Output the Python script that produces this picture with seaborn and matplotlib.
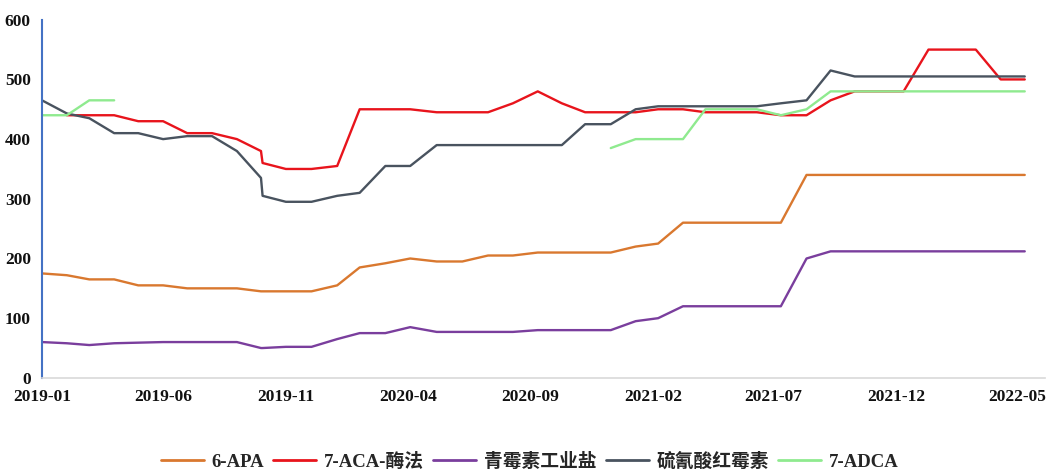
import numpy as np
import pandas as pd
import matplotlib
matplotlib.use("Agg")
import matplotlib.pyplot as plt
import matplotlib.dates as mdates
from matplotlib.lines import Line2D
import seaborn as sns

# ---------------- data ----------------
dates = ["2019-01-01", "2019-02-01", "2019-03-01", "2019-04-01", "2019-05-01",
         "2019-06-01", "2019-07-01", "2019-08-01", "2019-09-01", "2019-10-01",
         "2019-10-03", "2019-11-01", "2019-12-03", "2020-01-04", "2020-02-01",
         "2020-03-04", "2020-04-04", "2020-05-07", "2020-06-08", "2020-07-10",
         "2020-08-10", "2020-09-10", "2020-10-10", "2020-11-08", "2020-12-10",
         "2021-01-10", "2021-02-07", "2021-03-10", "2021-04-07", "2021-05-10",
         "2021-06-10", "2021-07-10", "2021-08-11", "2021-09-10", "2021-10-10",
         "2021-11-10", "2021-12-10", "2022-01-10", "2022-02-10", "2022-03-10",
         "2022-04-10", "2022-05-10"]

apa6 = [175, 172, 165, 165, 155, 155, 150, 150, 150, 145,
        145, 145, 145, 155, 185, 192, 200, 195, 195, 205,
        205, 210, 210, 210, 210, 220, 225, 260, 260, 260,
        260, 260, 340, 340, 340, 340, 340, 340, 340, 340,
        340, 340]

aca7 = [np.nan, 440, 440, 440, 430, 430, 410, 410, 400, 380,
        360, 350, 350, 355, 450, 450, 450, 445, 445, 445,
        460, 480, 460, 445, 445, 445, 450, 450, 445, 445,
        445, 440, 440, 465, 480, 480, 480, 550, 550, 550,
        500, 500]

penicillin = [60, 58, 55, 58, 59, 60, 60, 60, 60, 50,
              50, 52, 52, 65, 75, 75, 85, 77, 77, 77,
              77, 80, 80, 80, 80, 95, 100, 120, 120, 120,
              120, 120, 200, 212, 212, 212, 212, 212, 212, 212,
              212, 212]

erythro = [465, 443, 435, 410, 410, 400, 405, 405, 380, 335,
           305, 295, 295, 305, 310, 355, 355, 390, 390, 390,
           390, 390, 390, 425, 425, 450, 455, 455, 455, 455,
           455, 460, 465, 515, 505, 505, 505, 505, 505, 505,
           505, 505]

adca7 = [440, 440, 465, 465, np.nan, np.nan, np.nan, np.nan, np.nan, np.nan,
         np.nan, np.nan, np.nan, np.nan, np.nan, np.nan, np.nan, np.nan, np.nan, np.nan,
         np.nan, np.nan, np.nan, np.nan, 385, 400, 400, 400, 450, 450,
         450, 440, 450, 480, 480, 480, 480, 480, 480, 480,
         480, 480]

series_names = ["6-APA", "7-ACA-酶法", "青霉素工业盐", "硫氰酸红霉素", "7-ADCA"]
series_vals = [apa6, aca7, penicillin, erythro, adca7]
colors = ["#D9782F", "#E8141C", "#7A3E9D", "#49535F", "#8FEA8F"]

tick_dates = ["2019-01-01", "2019-06-01", "2019-11-01", "2020-04-01", "2020-09-01",
              "2021-02-01", "2021-07-01", "2021-12-01", "2022-05-01"]
y_ticks = [0, 100, 200, 300, 400, 500, 600]

# ---------------- long-form frame with segments (gaps) ----------------
rows = []
for name, vals in zip(series_names, series_vals):
    seg = 0
    prev_nan = True
    for d, v in zip(dates, vals):
        if v is None or (isinstance(v, float) and np.isnan(v)):
            prev_nan = True
            continue
        if prev_nan:
            seg += 1
            prev_nan = False
        rows.append({"date": pd.Timestamp(d), "value": v, "series": name,
                     "seg": f"{name}_{seg}"})
df = pd.DataFrame(rows)

# ---------------- plot ----------------
sns.set_style("white")
plt.rcParams["font.family"] = ["Liberation Serif", "Noto Sans CJK SC", "DejaVu Sans"]

fig = plt.figure(figsize=(10.49, 4.70), dpi=100)
ax = fig.add_axes([0.040, 0.196, 0.956, 0.762])

pal = dict(zip(series_names, colors))
sns.lineplot(data=df, x="date", y="value", hue="series", units="seg",
             estimator=None, palette=pal, hue_order=series_names,
             linewidth=1.7, ax=ax, legend=False, sort=False)

ax.set_ylim(0, 600)
ax.set_xlim(pd.Timestamp("2019-01-01"), pd.Timestamp("2022-06-04"))
ax.set_yticks(y_ticks)
ax.set_xticks([pd.Timestamp(t) for t in tick_dates])
ax.xaxis.set_major_formatter(mdates.DateFormatter("%Y-%m"))
ax.set_xlabel("")
ax.set_ylabel("")

for lab in ax.get_xticklabels() + ax.get_yticklabels():
    lab.set_fontweight("bold")
    lab.set_fontsize(12.5)
    lab.set_color("#111111")

ax.spines["top"].set_visible(False)
ax.spines["right"].set_visible(False)
ax.spines["left"].set_color("#4472C4")
ax.spines["left"].set_linewidth(1.5)
ax.spines["bottom"].set_color("#D9D9D9")
ax.spines["bottom"].set_linewidth(1.2)
ax.tick_params(axis="y", direction="in", length=6, width=1.2, color="#4472C4", pad=8)
ax.tick_params(axis="x", direction="in", length=6, width=1.0, color="#D0D0D0", pad=8)
ax.grid(False)

handles = [Line2D([0], [0], color=c, lw=2) for c in colors]
leg = fig.legend(handles, series_names, loc="center", bbox_to_anchor=(0.505, 0.018),
                 ncol=5, frameon=False, handlelength=2.3, handletextpad=0.4,
                 columnspacing=0.5,
                 prop={"family": ["Liberation Serif", "Noto Sans CJK SC"],
                       "weight": "bold", "size": 13.5})

fig.savefig("out.png", dpi=100)
